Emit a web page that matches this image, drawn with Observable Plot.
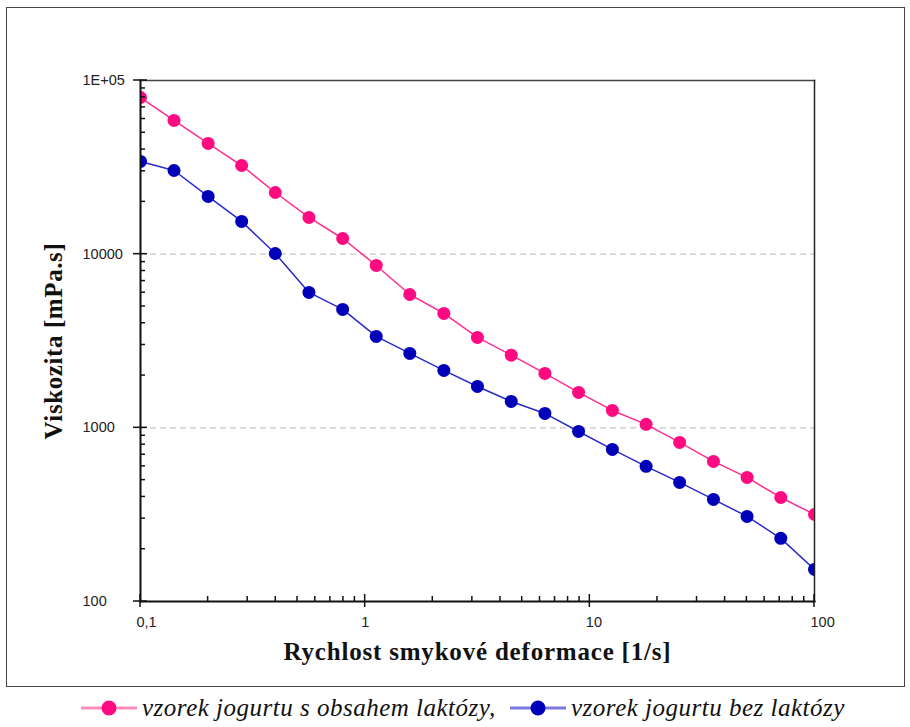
<!DOCTYPE html>
<html>
<head>
<meta charset="utf-8">
<script src="https://cdn.jsdelivr.net/npm/d3@7"></script>
<script src="https://cdn.jsdelivr.net/npm/@observablehq/plot@0.6"></script>
<style>
  body { margin: 0; background: #fff; width: 910px; height: 727px; position: relative; overflow: hidden; }
  #box { position: absolute; left: 6px; top: 7px; width: 899px; height: 680px; border: 1.5px solid #444; box-sizing: border-box; }
  #chart { position: absolute; left: 0; top: 0; }
  .item { position: absolute; top: 692px; height: 32px; display: flex; align-items: center; font-family: "Liberation Serif", "Times New Roman", serif; font-style: italic; font-size: 25px; letter-spacing: 0.5px; color: #111; white-space: nowrap; }
  .item svg { display: block; }
</style>
</head>
<body>
<div id="chart"></div>
<div id="box"></div>
<script>
// ---- data ----
const shearRate = [0.1, 0.141, 0.2, 0.282, 0.398, 0.562, 0.794, 1.12, 1.58, 2.24, 3.16, 4.47, 6.31, 8.91, 12.6, 17.8, 25.1, 35.5, 50.1, 70.8, 100];
const withLactose = [79800, 58900, 43400, 32400, 22650, 16270, 12310, 8610, 5860, 4560, 3315, 2620, 2057, 1600, 1259, 1047, 824, 641, 518, 397, 317];
const lactoseFree = [34180, 30330, 21500, 15430, 10090, 6020, 4806, 3360, 2682, 2141, 1731, 1419, 1210, 953, 751, 600, 485, 387, 309, 231, 153];
const seriesNames = ["vzorek jogurtu s obsahem laktózy,", "vzorek jogurtu bez laktózy"];
const seriesColors = ["#ff0a80", "#0000b8"];
const lineColors = ["#ff2d8f", "#2a2ac8"];
const legendLineColors = ["#ff8cbc", "#7a7ae0"];
const xMajor = [0.1, 1, 10, 100];
const xLabels = ["0,1", "1", "10", "100"];
const yMajor = [100, 1000, 10000, 100000];
const yLabels = ["100", "1000", "10000", "1E+05"];
const yGrid = [1000, 10000];
const xTitle = "Rychlost smykové deformace [1/s]";
const yTitle = "Viskozita [mPa.s]";

const xMinor = [];
for (const d of [0.1, 1, 10]) for (let k = 2; k <= 9; k++) xMinor.push(+(d * k).toPrecision(3));
const yMinor = [];
for (const d of [100, 1000, 10000]) for (let k = 2; k <= 9; k++) yMinor.push(d * k);

const rows = [];
[withLactose, lactoseFree].forEach((vals, s) => {
  vals.forEach((v, i) => rows.push({x: shearRate[i], y: v, s}));
});
const seriesRows = s => rows.filter(r => r.s === s);

// axis tick marks drawn through the plot's scales
function axisTicks(index, scales, values, dims) {
  const g = d3.create("svg:g").attr("stroke", "#111").attr("stroke-width", 1.5).attr("fill", "none");
  const left = dims.marginLeft;
  const bottom = dims.height - dims.marginBottom;
  const line = (x1, y1, x2, y2) => g.append("line").attr("x1", x1).attr("y1", y1).attr("x2", x2).attr("y2", y2);
  for (const v of yMajor) { const y = scales.y(v); line(left - 7, y, left + 7, y); }
  for (const v of yMinor) { const y = scales.y(v); line(left, y, left + 5, y); }
  for (const v of xMajor) { const x = scales.x(v); line(x, bottom + 6, x, bottom - 7); }
  for (const v of xMinor) { const x = scales.x(v); line(x, bottom, x, bottom - 5); }
  return g.node();
}

const plot = Plot.plot({
  width: 910,
  height: 690,
  marginLeft: 140,
  marginRight: 96,
  marginTop: 80,
  marginBottom: 89,
  style: {fontFamily: "'Liberation Sans', Arial, sans-serif", background: "transparent", color: "#222"},
  x: {type: "log", domain: [0.1, 100], axis: null},
  y: {type: "log", domain: [100, 100000], axis: null},
  marks: [
    Plot.ruleY(yGrid, {stroke: "#c8c8c8", strokeWidth: 1.3, strokeDasharray: "6,4"}),
    Plot.frame({anchor: "top", stroke: "#444", strokeWidth: 1.5}),
    Plot.frame({anchor: "right", stroke: "#222", strokeWidth: 1.5}),
    ...[0, 1].map(s => Plot.line(seriesRows(s), {x: "x", y: "y", stroke: lineColors[s], strokeWidth: 1.5, clip: "frame"})),
    ...[0, 1].map(s => Plot.dot(seriesRows(s), {x: "x", y: "y", r: 6.5, fill: seriesColors[s], stroke: "none", clip: "frame"})),
    Plot.frame({anchor: "left", stroke: "#111", strokeWidth: 2}),
    Plot.frame({anchor: "bottom", stroke: "#111", strokeWidth: 2}),
    axisTicks,
    Plot.axisY(yMajor, {tickSize: 0, tickPadding: 58, textAnchor: "start", fontSize: 14.5, fill: "#222", label: null,
      tickFormat: d => yLabels[yMajor.indexOf(d)]}),
    Plot.axisX(xMajor, {tickSize: 0, tickPadding: 15, textAnchor: "start", dx: -4, fontSize: 14.5, fill: "#222", label: null,
      tickFormat: d => xLabels[xMajor.indexOf(d)]}),
    Plot.text([xTitle], {frameAnchor: "bottom", dy: 58, fontSize: 25, fontWeight: "bold", textAnchor: "middle",
      fontFamily: "'Liberation Serif', 'Times New Roman', serif", fill: "#111"}),
    Plot.text([yTitle], {frameAnchor: "left", dx: -87, rotate: -90, fontSize: 25, fontWeight: "bold",
      textAnchor: "middle", lineAnchor: "middle",
      fontFamily: "'Liberation Serif', 'Times New Roman', serif", fill: "#111"})
  ]
});
document.getElementById("chart").appendChild(plot);
// letter spacing for titles
plot.querySelectorAll("text").forEach(t => {
  if (t.textContent === xTitle) t.setAttribute("letter-spacing", "0.8");
  if (t.textContent === yTitle) t.setAttribute("letter-spacing", "0.6");
});

// legend
const legendLeft = [80, 509];
seriesNames.forEach((name, s) => {
  const item = document.createElement("div");
  item.className = "item";
  item.style.left = legendLeft[s] + "px";
  item.innerHTML = `<svg width="58" height="20"><line x1="1" x2="57" y1="10" y2="10" stroke="${legendLineColors[s]}" stroke-width="3"/><circle cx="29" cy="10" r="7.5" fill="${seriesColors[s]}"/></svg><span style="margin-left:4px">${name}</span>`;
  document.body.appendChild(item);
});
</script>
</body>
</html>
